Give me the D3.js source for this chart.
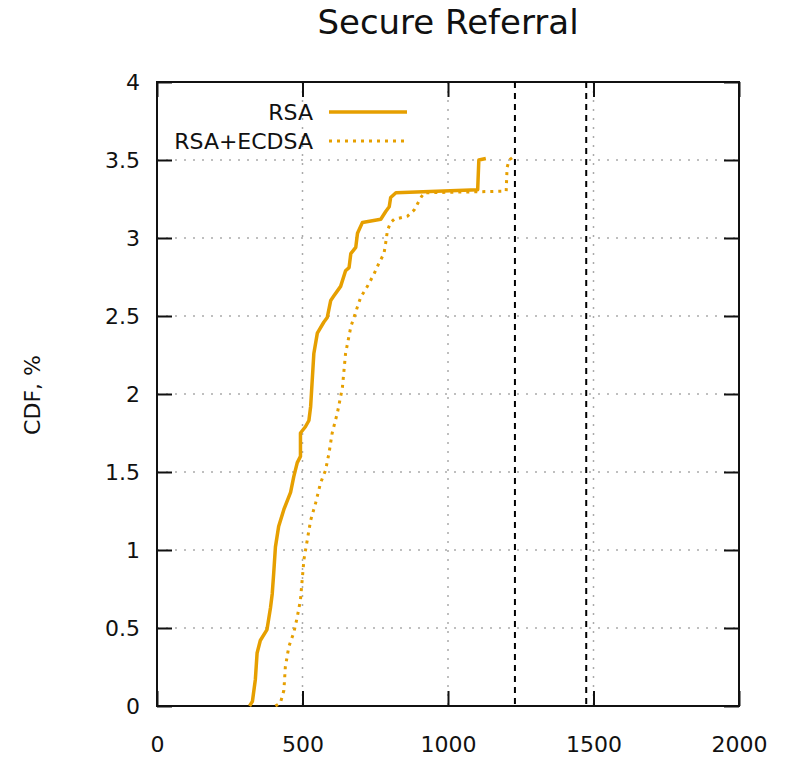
<!DOCTYPE html>
<html>
<head>
<meta charset="utf-8">
<script src="https://cdn.jsdelivr.net/npm/d3@7"></script>
<style>
  body { margin: 0; background: white; }
  text { font-family: "DejaVu Sans", sans-serif; fill: #111; }
</style>
</head>
<body>
<div id="chart"></div>
<script>
// data
const xTicks = [0, 500, 1000, 1500, 2000];
const yTicks = [0, 0.5, 1, 1.5, 2, 2.5, 3, 3.5, 4];
const markers = [1230, 1475];

const rsaX = [318, 328, 338, 344, 355, 378, 390, 396, 401, 407, 418, 436, 459, 470, 482, 493, 493, 510, 522, 528,
    539, 551, 573, 585, 597, 608, 631, 648, 660, 666, 683, 689, 706, 769, 786, 798, 803, 821, 1102, 1106, 1130];
const rsaY = [0, 0.03, 0.17, 0.34, 0.42, 0.49, 0.63, 0.72, 0.85, 1.02, 1.15, 1.26, 1.37, 1.47, 1.56, 1.60, 1.75, 1.79, 1.83, 1.92,
    2.26, 2.39, 2.46, 2.49, 2.60, 2.63, 2.69, 2.79, 2.81, 2.90, 2.94, 3.03, 3.10, 3.12, 3.17, 3.20, 3.26, 3.29, 3.31, 3.50, 3.51];

const ecdsaX = [407, 424, 436, 441, 453, 470, 482, 493, 499, 505, 516, 528, 545, 562, 579, 591, 602, 620, 637, 648,
    666, 689, 700, 723, 746, 763, 780, 786, 792, 803, 815, 861, 884, 907, 918, 1200, 1203, 1210, 1225];
const ecdsaY = [0, 0.02, 0.10, 0.25, 0.38, 0.47, 0.57, 0.68, 0.81, 0.94, 1.06, 1.19, 1.30, 1.43, 1.51, 1.62, 1.75, 1.88, 2.04, 2.26,
    2.43, 2.56, 2.62, 2.69, 2.77, 2.84, 2.90, 2.97, 3.05, 3.10, 3.12, 3.14, 3.18, 3.26, 3.29, 3.30, 3.45, 3.50, 3.52];

const orange = "#e69f00";

// set the dimensions and margins of the graph
const margin = {top: 82, right: 49, bottom: 53, left: 157},
    width = 788 - margin.left - margin.right,
    height = 759 - margin.top - margin.bottom;

let svg = d3.select("#chart")
    .append("svg")
    .attr("width", 788)
    .attr("height", 759);

let g = svg.append("g")
    .attr("transform", "translate(" + margin.left + "," + margin.top + ")");

let x = d3.scaleLinear().domain([0, 2000]).range([0, width]);
let y = d3.scaleLinear().domain([0, 4]).range([height, 0]);

// grid
g.selectAll(".gx").data(xTicks.slice(1, -1)).enter().append("line")
    .attr("x1", d => x(d)).attr("x2", d => x(d))
    .attr("y1", 0).attr("y2", height)
    .attr("stroke", "#aaa").attr("stroke-width", 1.5)
    .attr("stroke-dasharray", "2,7");
g.selectAll(".gy").data(yTicks.slice(1, -1)).enter().append("line")
    .attr("x1", 0).attr("x2", width)
    .attr("y1", d => y(d)).attr("y2", d => y(d))
    .attr("stroke", "#aaa").attr("stroke-width", 1.5)
    .attr("stroke-dasharray", "2,7");

// axes, ticks pointing inward, mirrored
const tk = 15;
const fmt = d => String(d);
let xb = g.append("g").attr("transform", "translate(0," + height + ")")
    .call(d3.axisBottom(x).tickValues(xTicks).tickSizeInner(-tk).tickSizeOuter(0).tickPadding(30).tickFormat(fmt));
let xt = g.append("g")
    .call(d3.axisTop(x).tickValues(xTicks).tickSizeInner(-tk).tickSizeOuter(0).tickFormat(""));
let yl = g.append("g")
    .call(d3.axisLeft(y).tickValues(yTicks).tickSizeInner(-tk).tickSizeOuter(0).tickPadding(17).tickFormat(fmt));
let yr = g.append("g").attr("transform", "translate(" + width + ",0)")
    .call(d3.axisRight(y).tickValues(yTicks).tickSizeInner(-tk).tickSizeOuter(0).tickFormat(""));

[xb, xt, yl, yr].forEach(a => {
    a.select(".domain").remove();
    a.selectAll("line").attr("stroke", "#111").attr("stroke-width", 2);
    a.selectAll("text").style("font-size", "22px").style("font-family", "DejaVu Sans, sans-serif").attr("fill", "#111");
});

// frame
g.append("rect")
    .attr("width", width).attr("height", height)
    .attr("fill", "none").attr("stroke", "#111").attr("stroke-width", 2);

// dashed reference lines
g.selectAll(".mk").data(markers).enter().append("line")
    .attr("x1", d => x(d)).attr("x2", d => x(d))
    .attr("y1", 0).attr("y2", height)
    .attr("stroke", "#000").attr("stroke-width", 2)
    .attr("stroke-dasharray", "6,5");

// series
let line = d3.line().x(d => x(d[0])).y(d => y(d[1]));

g.append("path")
    .datum(ecdsaX.map((v, i) => [v, ecdsaY[i]]))
    .attr("d", line)
    .attr("fill", "none").attr("stroke", orange)
    .attr("stroke-width", 3).attr("stroke-dasharray", "3,5");

g.append("path")
    .datum(rsaX.map((v, i) => [v, rsaY[i]]))
    .attr("d", line)
    .attr("fill", "none").attr("stroke", orange)
    .attr("stroke-width", 3.5).attr("stroke-linejoin", "round");

// legend
let legend = g.append("g");
legend.append("text").attr("x", 156).attr("y", 30).attr("text-anchor", "end")
    .attr("dominant-baseline", "central").style("font-size", "22px").text("RSA");
legend.append("line").attr("x1", 172).attr("x2", 250).attr("y1", 30).attr("y2", 30)
    .attr("stroke", orange).attr("stroke-width", 3.5);
legend.append("text").attr("x", 156).attr("y", 59).attr("text-anchor", "end")
    .attr("dominant-baseline", "central").style("font-size", "22px").text("RSA+ECDSA");
legend.append("line").attr("x1", 172).attr("x2", 250).attr("y1", 59).attr("y2", 59)
    .attr("stroke", orange).attr("stroke-width", 3).attr("stroke-dasharray", "3,5");

// title and axis label
svg.append("text").attr("x", 448).attr("y", 22).attr("text-anchor", "middle")
    .attr("dominant-baseline", "central").style("font-size", "34px").text("Secure Referral");
svg.append("text")
    .attr("transform", "translate(32,395) rotate(-90)")
    .attr("text-anchor", "middle").attr("dominant-baseline", "central")
    .style("font-size", "22px").text("CDF, %");
</script>
</body>
</html>
